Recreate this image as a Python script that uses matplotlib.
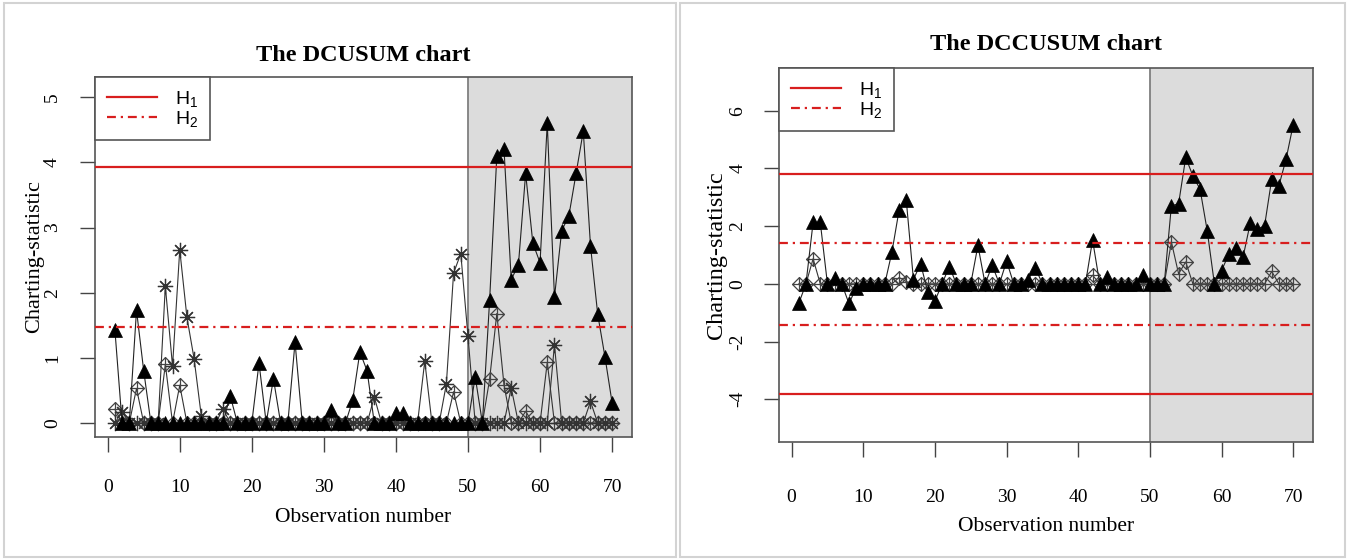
import numpy as np
import matplotlib.pyplot as plt
from matplotlib.path import Path
from matplotlib.patches import Rectangle

plt.rcParams['font.family'] = ['Liberation Serif', 'DejaVu Serif']
plt.rcParams['mathtext.fontset'] = 'custom'
plt.rcParams['mathtext.rm'] = 'Liberation Sans'
plt.rcParams['mathtext.it'] = 'Liberation Sans'
plt.rcParams['axes.unicode_minus'] = False

obs = np.arange(1, 71)

# DCUSUM chart (left)
dcusum_tri = [1.43, 0, 0, 1.73, 0.80, 0, 0, 0, 0, 0,
              0, 0, 0, 0, 0, 0, 0.42, 0, 0, 0,
              0.92, 0, 0.68, 0, 0, 1.24, 0, 0, 0, 0,
              0.20, 0, 0, 0.35, 1.09, 0.80, 0, 0, 0, 0.15,
              0.15, 0, 0, 0, 0, 0, 0, 0, 0, 0,
              0.71, 0, 1.88, 4.10, 4.20, 2.20, 2.43, 3.83, 2.76, 2.46,
              4.60, 1.93, 2.95, 3.18, 3.83, 4.48, 2.72, 1.67, 1.02, 0.31]
dcusum_ast = [0, 0.17, 0, 0, 0, 0, 0, 2.10, 0.87, 2.66,
              1.62, 0.98, 0.10, 0, 0, 0.22, 0, 0, 0, 0,
              0, 0, 0, 0, 0, 0, 0, 0, 0, 0,
              0, 0, 0, 0, 0, 0, 0.40, 0, 0, 0,
              0, 0, 0, 0.95, 0, 0, 0.60, 2.30, 2.60, 1.33,
              0, 0, 0, 0, 0, 0.54, 0, 0, 0, 0,
              0, 1.20, 0, 0, 0, 0, 0.33, 0, 0, 0]
dcusum_dia = [0.21, 0, 0, 0.53, 0, 0, 0, 0.90, 0, 0.58,
              0, 0, 0, 0, 0, 0, 0, 0, 0, 0,
              0, 0, 0, 0, 0, 0, 0, 0, 0, 0,
              0, 0, 0, 0, 0, 0, 0, 0, 0, 0,
              0, 0, 0, 0, 0, 0, 0, 0.48, 0, 0,
              0, 0, 0.67, 1.68, 0.58, 0, 0, 0.18, 0, 0,
              0.93, 0, 0, 0, 0, 0, 0, 0, 0, 0]
dcusum_h1 = 3.93
dcusum_h2 = 1.48

# DCCUSUM chart (right)
dccusum_tri = [-0.68, 0, 2.13, 2.13, 0, 0.20, 0, -0.68, -0.15, 0,
               0, 0, 0, 1.10, 2.56, 2.90, 0.15, 0.70, -0.28, -0.59,
               0, 0.60, 0, 0, 0, 1.33, 0, 0.64, 0, 0.79,
               0, 0, 0.15, 0.56, 0, 0, 0, 0, 0, 0,
               0, 1.52, 0, 0.25, 0, 0, 0, 0, 0.30, 0,
               0, 0, 2.71, 2.77, 4.38, 3.74, 3.28, 1.84, 0, 0.46,
               1.02, 1.25, 0.93, 2.10, 1.90, 2.01, 3.63, 3.40, 4.32, 5.52]
dccusum_dia = [0, 0, 0.87, 0, 0, 0, 0, 0, 0, 0,
               0, 0, 0, 0, 0.22, 0.08, 0, 0, 0, 0,
               0, 0, 0, 0, 0, 0, 0, 0, 0, 0,
               0, 0, 0, 0, 0, 0, 0, 0, 0, 0,
               0, 0.30, 0, 0, 0, 0, 0, 0, 0, 0,
               0, 0, 1.45, 0.35, 0.76, 0, 0, 0, 0, 0,
               0, 0, 0, 0, 0, 0, 0.43, 0, 0, 0]
dccusum_h1 = 3.80
dccusum_h2 = 1.42

change_point = 50
xticks = [0, 10, 20, 30, 40, 50, 60, 70]

# R pch 9: diamond with a plus inside
dia_plus = Path([(0, 1), (1, 0), (0, -1), (-1, 0), (0, 1),
                 (0, 1), (0, -1), (-1, 0), (1, 0)],
                [Path.MOVETO, Path.LINETO, Path.LINETO, Path.LINETO, Path.CLOSEPOLY,
                 Path.MOVETO, Path.LINETO, Path.MOVETO, Path.LINETO])

RED = '#d81e1e'
GRID = '#555555'
DASH = (4, 2.2, 1, 2.2)

fig = plt.figure(figsize=(13.49, 5.6), dpi=100)

# panel frames
fig.patches.append(Rectangle((4 / 1349, 3 / 560), 672 / 1349, 554 / 560, transform=fig.transFigure,
                             fill=False, edgecolor='#d3d3d3', lw=1.5))
fig.patches.append(Rectangle((680 / 1349, 3 / 560), 665 / 1349, 554 / 560, transform=fig.transFigure,
                             fill=False, edgecolor='#d3d3d3', lw=1.5))

ax1 = fig.add_axes([95 / 1349, 123 / 560, 537 / 1349, 360 / 560])
ax2 = fig.add_axes([779 / 1349, 118 / 560, 534 / 1349, 374 / 560])


def draw_panel(ax, title, ylim, yticks, h1, h2, series, ylab_x, xlab_y, title_y, ypad, xpad, ylab_size):
    ax.set_xlim(-1.76, 72.76)
    ax.set_ylim(*ylim)
    ax.axvspan(change_point, 80, color='#dcdcdc', zorder=0)
    ax.axvline(change_point, color='#808080', lw=1.3, zorder=1)

    for vals, kind in series:
        if kind == 'dia':
            ax.plot(obs, vals, color='#333333', lw=0.8, marker=dia_plus, ms=10,
                    mfc='none', mec='#444444', mew=0.9, zorder=3)
        elif kind == 'ast':
            ax.plot(obs, vals, color='#333333', lw=0.8, marker=(8, 2, 0), ms=11,
                    mec='#333333', mew=0.9, zorder=4)
        else:
            ax.plot(obs, vals, color='#222222', lw=0.8, marker='^', ms=9.5,
                    mfc='black', mec='black', mew=0.5, zorder=5)

    ax.axhline(h1, color=RED, lw=1.6, zorder=6)
    ax.axhline(h2, color=RED, lw=1.6, dashes=DASH, zorder=6)
    if ylim[0] < -1:
        ax.axhline(-h1, color=RED, lw=1.6, zorder=6)
        ax.axhline(-h2, color=RED, lw=1.6, dashes=DASH, zorder=6)

    ax.set_xticks(xticks)
    ax.set_yticks(yticks)
    ax.tick_params(axis='both', length=10.5, width=1, color='#444444', labelsize=14)
    ax.tick_params(axis='y', labelrotation=90, pad=ypad)
    ax.tick_params(axis='x', pad=xpad)
    for lab in ax.get_yticklabels():
        lab.set_va('center')
    for sp in ax.spines.values():
        sp.set_color(GRID)
        sp.set_linewidth(1.2)

    ax.text(0.5, title_y, title, transform=ax.transAxes, ha='center', va='center',
            fontsize=17.5, fontweight='bold')
    ax.set_xlabel('Observation number', fontsize=15.5, va='center')
    ax.xaxis.set_label_coords(0.5, xlab_y)
    ax.set_ylabel('Charting-statistic', fontsize=ylab_size, va='center')
    ax.yaxis.set_label_coords(ylab_x, 0.5)

    h_a, = ax.plot([], [], color=RED, lw=1.6)
    h_b, = ax.plot([], [], color=RED, lw=1.6, dashes=DASH)
    leg = ax.legend([h_a, h_b], [r'$\mathregular{H_1}$', r'$\mathregular{H_2}$'],
                    loc='upper left', bbox_to_anchor=(0, 1), borderaxespad=0,
                    fancybox=False, framealpha=1, edgecolor=GRID,
                    prop={'family': 'Liberation Sans', 'size': 14},
                    handlelength=2.6, handletextpad=0.9, labelspacing=0.0,
                    borderpad=0.6)
    leg.get_frame().set_linewidth(1.2)
    leg.set_zorder(10)


draw_panel(ax1, 'The DCUSUM chart', (-0.215, 5.31), [0, 1, 2, 3, 4, 5],
           dcusum_h1, dcusum_h2,
           [(dcusum_dia, 'dia'), (dcusum_ast, 'ast'), (dcusum_tri, 'tri')],
           ylab_x=-0.112, xlab_y=-0.225, title_y=1.061, ypad=14, xpad=20, ylab_size=16)

draw_panel(ax2, 'The DCCUSUM chart', (-5.48, 7.48), [-4, -2, 0, 2, 4, 6],
           dccusum_h1, dccusum_h2,
           [(dccusum_dia, 'dia'), (dccusum_tri, 'tri')],
           ylab_x=-0.117, xlab_y=-0.227, title_y=1.0615, ypad=13, xpad=23, ylab_size=17.5)

fig.savefig('out.png', dpi=100)
